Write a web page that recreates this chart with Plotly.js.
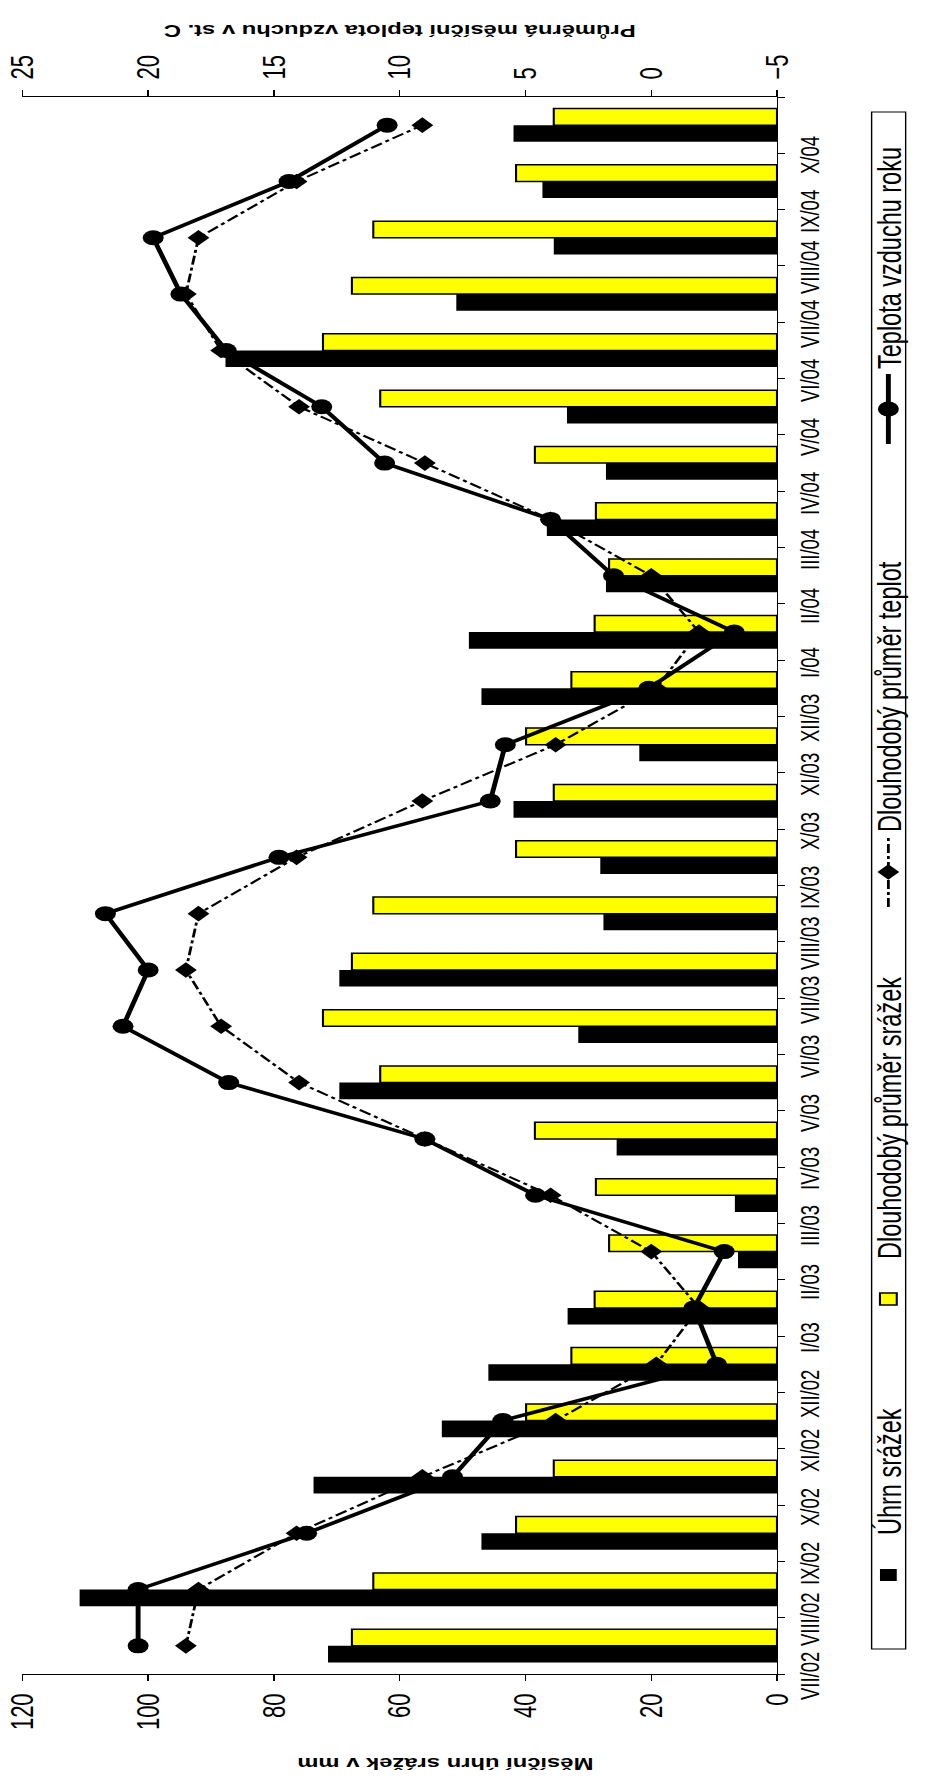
<!DOCTYPE html>
<html>
<head>
<meta charset="utf-8">
<script src="https://cdn.plot.ly/plotly-3.0.1.min.js"></script>
<style>
html,body{margin:0;padding:0;width:936px;height:1779px;overflow:hidden;background:#fff;}
#chart{position:absolute;left:0;top:0;width:1779px;height:669px;transform-origin:0 0;}
</style>
</head>
<body>
<div id="chart"></div>
<script>
// ---- data ----
const categories = ['VII/02','VIII/02','IX/02','X/02','XI/02','XII/02',
  'I/03','II/03','III/03','IV/03','V/03','VI/03','VII/03','VIII/03','IX/03','X/03','XI/03','XII/03',
  'I/04','II/04','III/04','IV/04','V/04','VI/04','VII/04','VIII/04','IX/04','X/04'];

// Měsíční úhrn srážek (mm)
const uhrnSrazek = [71.4,110.9,47.0,73.7,53.3,45.9,
  33.3,6.2,6.7,25.5,69.6,31.6,69.6,27.6,28.1,41.9,21.9,47.0,
  49.0,27.2,36.6,27.2,33.4,87.7,51.0,35.5,37.3,41.9];

// Dlouhodobý průměr srážek (mm)
const prumerSrazek = [67.6,64.2,41.5,35.5,39.9,32.7,
  29.0,26.7,28.8,38.5,63.1,72.2,67.6,64.2,41.5,35.5,39.9,32.7,
  29.0,26.7,28.8,38.5,63.1,72.2,67.6,64.2,41.5,35.5];

// Dlouhodobý průměr teplot (st. C)
const prumerTeplot = [18.5,18.0,14.1,9.1,3.8,-0.2,
  -1.9,0.0,4.0,9.0,14.0,17.1,18.5,18.0,14.1,9.1,3.8,-0.2,
  -1.9,0.0,4.0,9.0,14.0,17.1,18.5,18.0,14.1,9.1];

// Teplota vzduchu roku (st. C)
const teplotaRoku = [20.4,20.4,13.7,7.9,5.9,-2.6,
  -1.7,-2.9,4.6,9.0,16.8,21.0,20.0,21.7,14.8,6.4,5.8,0.1,
  -3.3,1.5,4.0,10.6,13.1,16.9,18.7,19.8,14.4,10.5];

const names = ['Úhrn srážek','Dlouhodobý průměr srážek','Dlouhodobý průměr teplot','Teplota vzduchu roku'];
const yTitle = 'Měsíční úhrn srážek v mm';
const y2Title = 'Průměrná měsíční teplota vzduchu v st. C';

// ---- chart ----
const FONT = '"Liberation Sans", Arial, sans-serif';
const STRETCH = 1.4;

const traces = [
  {type:'bar', name:names[0], x:categories, y:uhrnSrazek,
   marker:{color:'#000000', line:{color:'#000000', width:0}}, legend:'legend'},
  {type:'bar', name:names[1], x:categories, y:prumerSrazek,
   marker:{color:'#FFFF00', line:{color:'#000000', width:1.5}}, legend:'legend2'},
  {type:'scatter', mode:'lines+markers', name:names[2], x:categories, y:prumerTeplot, yaxis:'y2',
   line:{color:'#000000', width:2, dash:'dashdot'},
   marker:{symbol:'diamond', size:12, color:'#000000'}, legend:'legend3'},
  {type:'scatter', mode:'lines+markers', name:names[3], x:categories, y:teplotaRoku, yaxis:'y2',
   line:{color:'#000000', width:3.5},
   marker:{symbol:'circle', size:15, color:'#000000'}, legend:'legend4'}
];

function legendAt(x){
  return {x:x, y:-0.148, xanchor:'left', yanchor:'middle', orientation:'h',
    bgcolor:'rgba(0,0,0,0)', borderwidth:0, itemwidth:70,
    font:{family:FONT, size:23.5, color:'#000'}};
}

const annotations = categories.map(c => ({
  x:c, xref:'x', y:0, yref:'paper', yanchor:'middle', xanchor:'center',
  yshift:-23.6, xshift:-30, text:c, showarrow:false,
  font:{family:FONT, size:18.5, color:'#000'}
}));
// left axis title (placed like in the reference, slightly below the axis centre)
annotations.push({xref:'paper', yref:'paper', x:-0.0564, y:0.44, xanchor:'center', yanchor:'middle',
  textangle:-90, text:'<b>'+yTitle+'</b>', showarrow:false, font:{family:FONT, size:17, color:'#000'}});

const layout = {
  width:1779, height:669,
  margin:{l:105, r:97, t:16, b:98, pad:0},
  paper_bgcolor:'#ffffff', plot_bgcolor:'#ffffff',
  font:{family:FONT, color:'#000'},
  barmode:'group', bargap:0.41, bargroupgap:0,
  showlegend:true,
  xaxis:{type:'category', categoryorder:'array', categoryarray:categories, range:[-0.5,27.5],
    showline:true, linecolor:'#000', linewidth:1, ticks:'outside', tickson:'boundaries',
    ticklen:5, tickcolor:'#000', showticklabels:false, showgrid:false, zeroline:false, automargin:false},
  yaxis:{range:[0,120], dtick:20, showline:true, linecolor:'#000', linewidth:1,
    ticks:'outside', ticklen:6, tickcolor:'#000', showgrid:false, zeroline:false, automargin:false,
    tickfont:{family:FONT, size:22, color:'#000'}, ticklabelstandoff:8},
  yaxis2:{overlaying:'y', side:'right', range:[-5,25], dtick:5, showline:true, linecolor:'#000', linewidth:1,
    ticks:'outside', ticklen:6, tickcolor:'#000', showgrid:false, zeroline:false, automargin:false,
    tickfont:{family:FONT, size:22, color:'#000'}, ticklabelstandoff:6,
    title:{text:'<b>'+y2Title+'</b>', font:{family:FONT, size:17, color:'#000'}, standoff:18}},
  legend:legendAt(0.0374),
  legend2:legendAt(0.2124),
  legend3:legendAt(0.4832),
  legend4:legendAt(0.7768),
  shapes:[{type:'rect', xref:'paper', yref:'paper', x0:0.0159, x1:0.9905, y0:-0.1705, y1:-0.1254,
    line:{color:'#000', width:1}, fillcolor:'rgba(0,0,0,0)'}],
  annotations:annotations
};

const gd = document.getElementById('chart');
Plotly.newPlot(gd, traces, layout, {displayModeBar:false, responsive:false}).then(function(){
  gd.style.transform = 'translateY(1779px) scaleX(' + STRETCH + ') rotate(-90deg)';
});
</script>
</body>
</html>
